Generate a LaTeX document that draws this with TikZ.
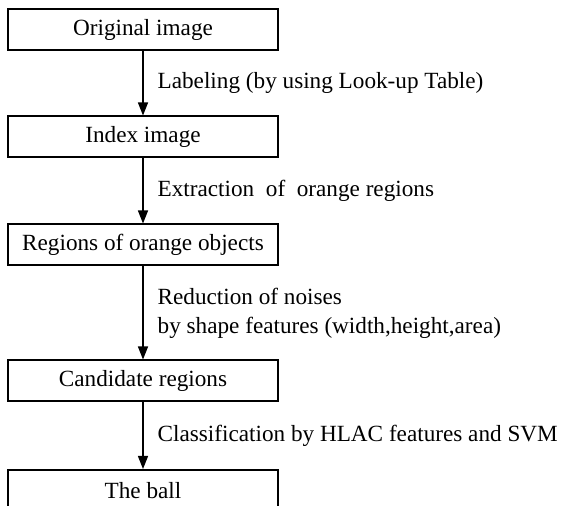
\documentclass[tikz,border=0pt]{standalone}
\usepackage{fontspec}
\setmainfont{Liberation Serif}
\usetikzlibrary{arrows.meta}

\tikzset{
  stage/.style={draw, line width=1pt, minimum width=135pt, minimum height=20.5pt, inner sep=0pt},
  flow/.style={->, line width=0.65pt},
  note/.style={right, align=left, inner sep=0pt, xshift=7pt}
}

\begin{document}
\begin{tikzpicture}[x=0.5pt,y=-0.5pt,font=\fontsize{11.6}{14.5}\selectfont,
  >={Triangle[length=6.5pt,width=5pt]}]
\clip (0,0) rectangle (562,506);
\node[stage] (orig) at (143,29.5) {Original image};
\node[stage] (index) at (143,137) {Index image};
\node[stage] (orange) at (143,245) {Regions of orange objects};
\node[stage] (cand) at (143,381) {Candidate regions};
\node[stage] (ball) at (143,490.5) {The ball};
\draw[flow] (orig) -- node[note] {Labeling (by using Look-up Table)} (index);
\draw[flow] (index) -- node[note] {Extraction\ \ of\ \ orange regions} (orange);
\draw[flow] (orange) -- node[note] {Reduction of noises\\by shape features (width,height,area)} (cand);
\draw[flow] (cand) -- node[note] {Classification by HLAC features and SVM} (ball);
\end{tikzpicture}
\end{document}
